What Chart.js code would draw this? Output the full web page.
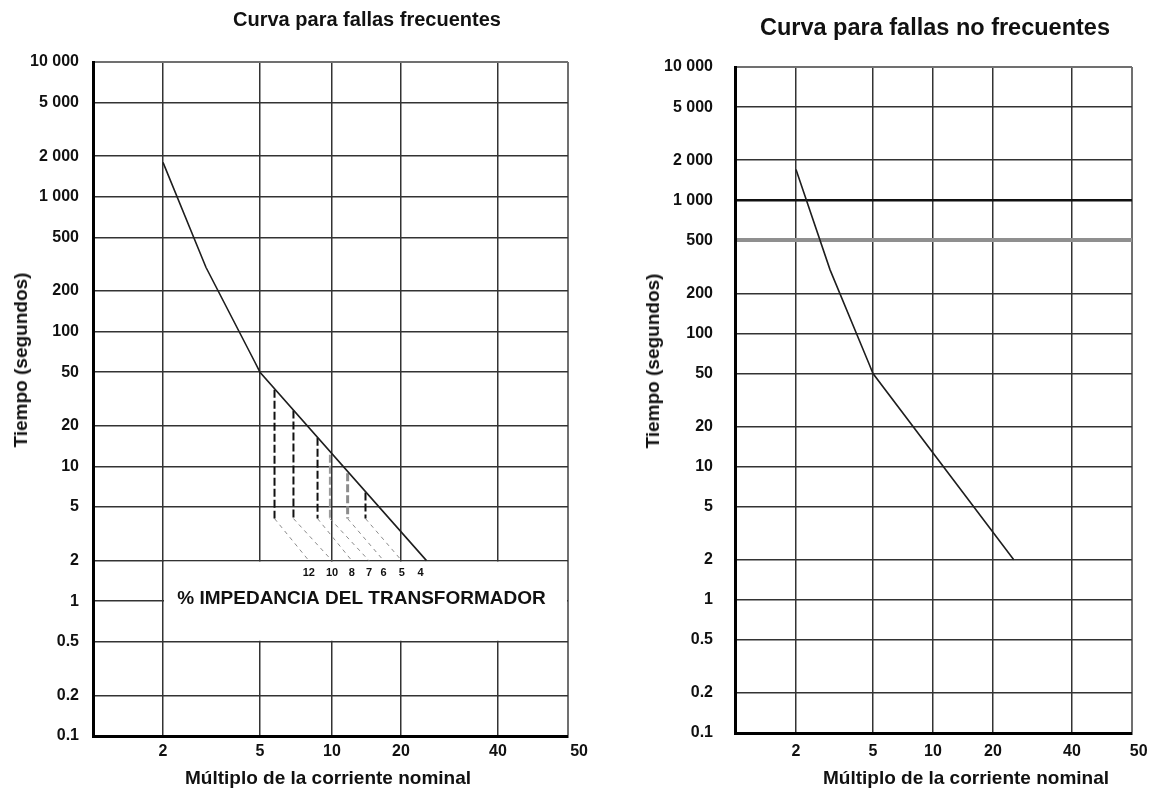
<!DOCTYPE html>
<html lang="es">
<head>
<meta charset="utf-8">
<title>Curvas de daño del transformador</title>
<script src="https://cdn.jsdelivr.net/npm/chart.js@4.4.1/dist/chart.umd.min.js"></script>
<style>
  body { margin: 0; background: #fff; }
  #sheet { position: relative; width: 1149px; height: 796px; overflow: hidden;
           font-family: "Liberation Sans", Arial, sans-serif; color: #111; }
  #sheet canvas { position: absolute; top: 0; }
  .txt { position: absolute; transform: translate(-50%, -50%); white-space: nowrap;
         font-weight: bold; font-size: 19px; }
  .vertical { transform: translate(-50%, -50%) rotate(-90deg); }
</style>
</head>
<body>
<div id="sheet">
  <canvas id="frecuentes" width="600" height="796" style="left:0"></canvas>
  <canvas id="noFrecuentes" width="580" height="796" style="left:600px"></canvas>

  <div class="txt" style="left:367px; top:19px; font-size:20px">Curva para fallas frecuentes</div>
  <div class="txt" style="left:935px; top:27px; font-size:23.5px">Curva para fallas no frecuentes</div>
  <div class="txt vertical" style="left:21px; top:360px">Tiempo (segundos)</div>
  <div class="txt vertical" style="left:653px; top:361px">Tiempo (segundos)</div>
  <div class="txt" style="left:328px; top:778px">Múltiplo de la corriente nominal</div>
  <div class="txt" style="left:966px; top:778px">Múltiplo de la corriente nominal</div>
</div>

<script>
// ejes
const timeTicks = [0.1, 0.2, 0.5, 1, 2, 5, 10, 20, 50, 100, 200, 500, 1000, 2000, 5000, 10000];
const timeLabels = ['0.1', '0.2', '0.5', '1', '2', '5', '10', '20', '50', '100', '200', '500',
                    '1 000', '2 000', '5 000', '10 000'];
const multipleTicks = [1, 2, 5, 10, 20, 40, 50];
const multipleLabels = ['', '2', '5', '10', '20', '40', '50'];

// curva para fallas frecuentes (múltiplo de In, segundos)
const frecMultiple = [2, 3, 4.75, 5, 24];
const frecTime = [1800, 300, 60, 50, 2];

// curva para fallas no frecuentes
const noFrecMultiple = [2, 3, 4.75, 5, 24];
const noFrecTime = [1700, 300, 60, 50, 2];

// tramos punteados según % de impedancia del transformador
const impedance = [12, 10, 8, 7, 6, 5, 4];
const impedanceMultiple = [8, 10, 12.2, 14.5, 16.8, 20.1, 23];
const dropMultiple = [5.75, 6.9, 8.7, 9.8, 11.7, 14];
const dropTop = [37, 26, 16.3, 12.2, 8.9, 6.4];
const dropFoot = [4.1, 4.1, 4.1, 4.1, 4.1, 4.1];
const dropEnd = [2, 2, 2, 2, 2, 2];

const dropColor = ['#111', '#111', '#111', '#9a9a9a', '#8c8c8c', '#111'];
const dropWidth = [2, 2, 2, 2, 3, 2];

Chart.defaults.font.family = '"Liberation Sans", Arial, sans-serif';
Chart.defaults.color = '#111';

// eje de múltiplos: escala logarítmica por tramos entre las divisiones impresas
class StepLogScale extends Chart.Scale {
  determineDataLimits() {
    const v = this.options.stopValues;
    this.min = v[0];
    this.max = v[v.length - 1];
  }
  buildTicks() {
    return this.options.stopValues.map(value => ({ value }));
  }
  getLabelForValue(value) {
    return String(value);
  }
  getPixelForValue(value) {
    const v = this.options.stopValues, p = this.options.stopPositions;
    let i = 0;
    while (i < v.length - 2 && value > v[i + 1]) i++;
    const f = Math.log(value / v[i]) / Math.log(v[i + 1] / v[i]);
    return this.getPixelForDecimal(p[i] + (p[i + 1] - p[i]) * f);
  }
  getValueForPixel(pixel) {
    const d = this.getDecimalForPixel(pixel);
    const v = this.options.stopValues, p = this.options.stopPositions;
    let i = 0;
    while (i < p.length - 2 && d > p[i + 1]) i++;
    return v[i] * Math.pow(v[i + 1] / v[i], (d - p[i]) / (p[i + 1] - p[i]));
  }
}
StepLogScale.id = 'steplog';
StepLogScale.defaults = {};
Chart.register(StepLogScale);

const points = (xs, ys) => xs.map((x, i) => ({ x, y: ys[i] }));

function curveDataset(xs, ys) {
  return { data: points(xs, ys), borderColor: '#1e1e1e', borderWidth: 1.6, pointRadius: 0 };
}

// caja blanca con la leyenda de impedancias
const impedancePanel = {
  id: 'impedancePanel',
  beforeDatasetsDraw(chart) {
    const { ctx, scales: { x, y } } = chart;
    const left = x.getPixelForValue(2) + 1, right = x.getPixelForValue(50) - 1;
    const top = y.getPixelForValue(2) + 1, bottom = y.getPixelForValue(0.5) - 1;
    ctx.save();
    ctx.fillStyle = '#fff';
    ctx.fillRect(left, top, right - left, bottom - top);
    ctx.fillStyle = '#111';
    ctx.textAlign = 'center';
    ctx.textBaseline = 'middle';
    ctx.font = 'bold 11px "Liberation Sans", Arial, sans-serif';
    impedance.forEach((z, i) => ctx.fillText(String(z), x.getPixelForValue(impedanceMultiple[i]), top + 11));
    ctx.font = 'bold 19px "Liberation Sans", Arial, sans-serif';
    ctx.fillText('% IMPEDANCIA DEL TRANSFORMADOR', (left + right) / 2 - 4, y.getPixelForValue(1.05));
    ctx.restore();
  }
};

function panelOptions(p) {
  const gridStyle = (values, fallback) => c => {
    const v = c.tick && c.tick.value;
    return v in values ? values[v] : fallback;
  };
  return {
    responsive: false,
    animation: false,
    events: [],
    devicePixelRatio: 1,
    layout: { padding: p.padding },
    plugins: { legend: { display: false }, title: { display: false }, tooltip: { enabled: false } },
    scales: {
      x: {
        type: 'steplog',
        stopValues: multipleTicks,
        stopPositions: p.stops,
        afterFit: s => { s.height = 40; },
        border: { color: '#000', width: 3, z: 1 },
        grid: {
          drawTicks: false,
          color: gridStyle({ 50: '#707070' }, '#333'),
          lineWidth: gridStyle({ 50: 2 }, 1.5)
        },
        ticks: {
          padding: p.xPad,
          autoSkip: false,
          maxRotation: 0,
          font: { size: 16, weight: 'bold' },
          callback: (v, i) => i === multipleLabels.length - 1
            ? ' '.repeat(p.lastNudge) + multipleLabels[i] : multipleLabels[i]
        }
      },
      y: {
        type: 'logarithmic',
        min: 0.1,
        max: 10000,
        afterBuildTicks: s => { s.ticks = timeTicks.map(value => ({ value })); },
        afterFit: s => { s.width = p.yWidth; },
        border: { color: '#000', width: 3, z: 1 },
        grid: {
          drawTicks: false,
          color: gridStyle(Object.assign({ 10000: '#707070' }, p.yColors), '#333'),
          lineWidth: gridStyle(Object.assign({ 10000: 2 }, p.yWidths), 1.5)
        },
        ticks: {
          padding: p.yPad,
          autoSkip: false,
          font: { size: 16, weight: 'bold' },
          callback: (v, i) => timeLabels[i]
        }
      }
    }
  };
}

const dropDatasets = [];
dropMultiple.forEach((m, i) => {
  dropDatasets.push({
    data: points([m, m], [dropTop[i], dropFoot[i]]),
    borderColor: dropColor[i], borderWidth: dropWidth[i], borderDash: [8, 3], pointRadius: 0
  });
  dropDatasets.push({
    data: points([m, impedanceMultiple[i]], [dropFoot[i], dropEnd[i]]),
    borderColor: '#8a8a8a', borderWidth: 1, borderDash: [4, 4], pointRadius: 0
  });
});

new Chart(document.getElementById('frecuentes'), {
  type: 'line',
  data: { datasets: [curveDataset(frecMultiple, frecTime)].concat(dropDatasets) },
  options: panelOptions({
    padding: { top: 62, right: 32, bottom: 20, left: 0 },
    stops: [0, 0.14737, 0.35158, 0.50316, 0.64842, 0.85263, 1],
    yWidth: 93, yPad: 14, xPad: 6, lastNudge: 5,
    yColors: {}, yWidths: {}
  }),
  plugins: [impedancePanel]
});

new Chart(document.getElementById('noFrecuentes'), {
  type: 'line',
  data: { datasets: [curveDataset(noFrecMultiple, noFrecTime)] },
  options: panelOptions({
    padding: { top: 67, right: 48, bottom: 23, left: 0 },
    stops: [0, 0.15365, 0.34761, 0.49874, 0.64987, 0.84887, 1],
    yWidth: 135, yPad: 22, xPad: 9, lastNudge: 3,
    yColors: { 1000: '#111', 500: '#8f8f8f' },
    yWidths: { 1000: 2.5, 500: 4 }
  })
});
</script>
</body>
</html>
